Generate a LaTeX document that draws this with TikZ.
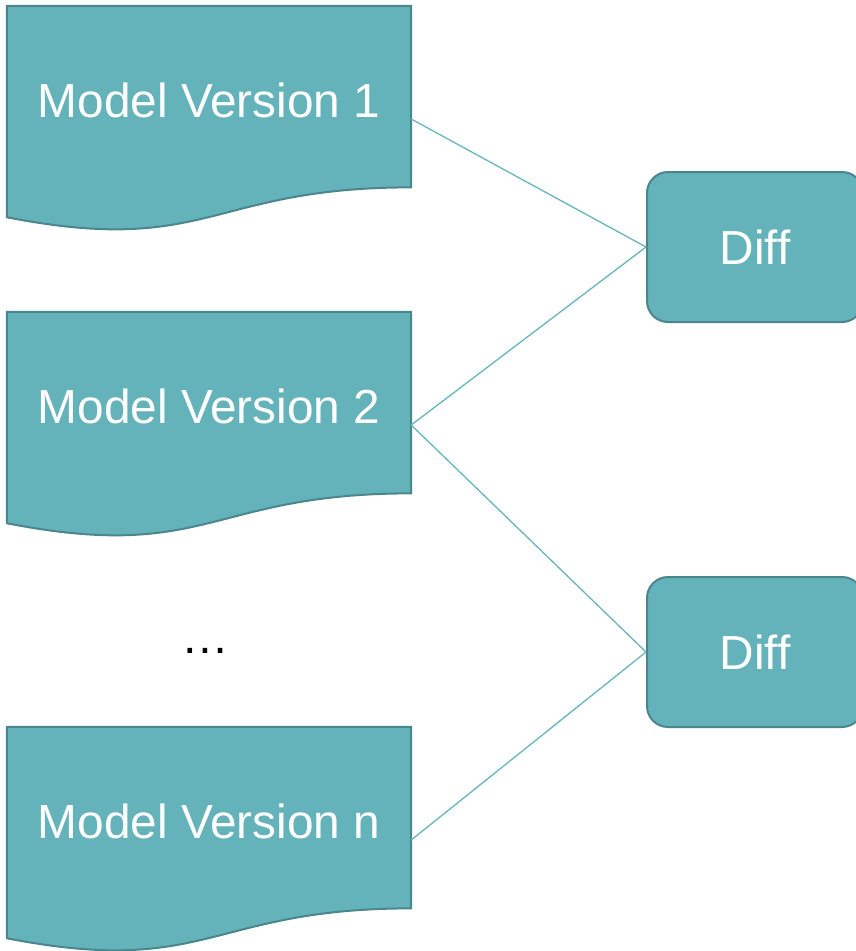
\documentclass[tikz,border=0pt]{standalone}
\usepackage{fontspec}
\setmainfont{Liberation Sans}
\usetikzlibrary{calc}
\definecolor{tealfill}{HTML}{64B2BA}
\definecolor{tealedge}{HTML}{4B868D}
\definecolor{tealline}{HTML}{66B5BD}
\tikzset{
  docframe/.style={draw=none, minimum width=404pt, minimum height=226pt, inner sep=0pt},
  docshape/.style={fill=tealfill, draw=tealedge, line width=2pt},
  doclabel/.style={text=white, font=\fontsize{47.8pt}{52pt}\selectfont, inner sep=0pt, anchor=base},
  diffbox/.style={fill=tealfill, draw=tealedge, line width=2pt, rounded corners=21pt,
    minimum width=216pt, minimum height=150pt, inner sep=0pt, text=white,
    font=\fontsize{47.8pt}{52pt}\selectfont},
  link/.style={draw=tealline, line width=1.3pt}
}
% wavy-bottom document shape drawn over a named frame node
\newcommand{\wavydoc}[1]{%
  \path[docshape] (#1.north west) -- (#1.north east)
    -- ($(#1.north east)!0.802!(#1.south east)$)
    .. controls ($(#1.north)!0.802!(#1.south)$) and ($(#1.north)!1.1075!(#1.south)$)
    .. ($(#1.north west)!0.934!(#1.south west)$) -- cycle;}
\begin{document}
\begin{tikzpicture}[x=1pt, y=-1pt]
  \useasboundingbox (0,0) rectangle (855,951);

  % documents
  \node[docframe] (m1) at (209,119) {};
  \node[docframe] (m2) at (209,425) {};
  \node[docframe] (mn) at (209,840) {};
  \wavydoc{m1}
  \wavydoc{m2}
  \wavydoc{mn}
  \node[doclabel] (t1) at (209,117) {Model Version 1};
  \node[doclabel] (t2) at (209,423) {Model Version 2};
  \node[doclabel] (tn) at (209,838) {Model Version n};

  \node[text=black, font=\fontsize{47.8pt}{52pt}\selectfont, inner sep=0pt, anchor=base] (dots) at (205,653) {…};

  % diff boxes
  \node[diffbox] (d1) at (755,247) {Diff};
  \node[diffbox] (d2) at (755,652) {Diff};

  % connectors
  \draw[link] (m1.east) -- (d1.west);
  \draw[link] (m2.east) -- (d1.west);
  \draw[link] (m2.east) -- (d2.west);
  \draw[link] (mn.east) -- (d2.west);
\end{tikzpicture}
\end{document}
